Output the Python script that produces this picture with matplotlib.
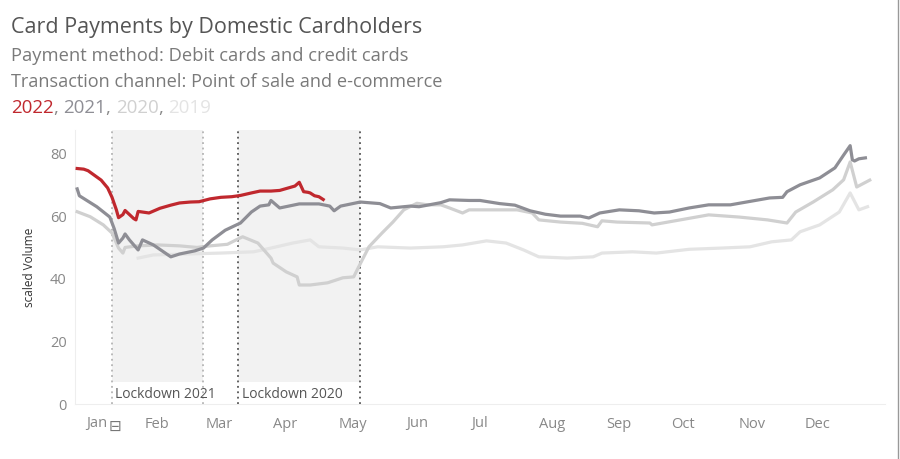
import matplotlib.pyplot as plt
from matplotlib.lines import Line2D

plt.rcParams['font.family'] = ['Open Sans', 'DejaVu Sans']

# day of year / scaled volume
days_2022 = [0, 3, 5, 8, 11, 14, 16, 18, 19, 21, 22, 24, 26, 27, 28, 30, 33, 38, 43, 47, 52, 56,
             61, 66, 71, 75, 80, 84, 89, 93, 97, 100, 102, 104, 106, 107, 109, 111, 113]
vol_2022 = [75.2, 75, 74.5, 73, 71.5, 69, 66, 62, 59.5, 60.5, 61.8, 60.5, 59.2, 58.8, 61.5, 61.3, 61,
            62.5, 63.5, 64.2, 64.5, 64.6, 65.5, 66, 66.2, 66.6, 67.4, 68, 68, 68.2, 69, 69.6, 70.8,
            67.8, 67.6, 67.4, 66.5, 66.2, 65.3]

days_2021 = [0, 1, 9, 15, 17, 19, 21, 22, 24, 28, 30, 35, 43, 47, 54, 58, 62, 68, 75, 80, 84, 88,
             89, 93, 102, 111, 116, 118, 121, 130, 139, 144, 153, 157, 167, 171, 180, 185, 194,
             201, 208, 215, 222, 231, 235, 240, 249, 258, 265, 272, 281, 290, 300, 309, 318, 324,
             326, 332, 341, 348, 352, 355, 356, 357, 359, 362]
vol_2021 = [68.7, 66.5, 63, 59.7, 56, 51.4, 53, 54.3, 52.4, 49.2, 52.4, 50.8, 47, 47.9, 48.9, 49.8,
            52.4, 55.5, 57.8, 61.3, 63.2, 63.6, 65, 62.6, 63.9, 63.9, 63.2, 61.7, 63.2, 64.5, 64,
            62.6, 63.2, 63, 64.3, 65.2, 65, 65, 64, 63.5, 61.7, 60.6, 60, 60, 59.4, 61, 62, 61.7,
            61, 61.3, 62.6, 63.6, 63.6, 64.7, 65.8, 66, 67.8, 70, 72.2, 75.4, 79.5, 82.5, 78, 77.6,
            78.3, 78.6]

days_2020 = [0, 6, 12, 16, 19, 21, 22, 28, 37, 47, 55, 61, 69, 73, 76, 83, 89, 90, 96, 101, 102,
             107, 115, 122, 127, 129, 134, 140, 145, 150, 156, 161, 167, 171, 177, 180, 189, 202,
             209, 212, 222, 232, 239, 241, 248, 263, 264, 277, 290, 304, 317, 326, 330, 338, 347,
             352, 355, 358, 364]
vol_2020 = [61.4, 59.8, 57.2, 54.6, 49.8, 48.2, 50, 50.5, 50.8, 50.5, 50, 50.5, 51, 52.4, 53.4,
            51.4, 46.6, 45, 42.2, 40.6, 38, 38, 38.7, 40.3, 40.6, 43.4, 50.2, 54.6, 58.1, 62, 64.1,
            63.6, 63.6, 62.6, 61, 62, 62, 62, 61, 58.8, 58.1, 57.7, 56.6, 58.5, 58.1, 57.8, 57.2,
            58.8, 60.4, 59.7, 58.8, 57.8, 61.3, 64.5, 68.4, 71.6, 77.3, 69.3, 71.5]

days_2019 = [28, 35, 50, 66, 81, 89, 99, 107, 111, 122, 130, 138, 153, 168, 177, 188, 197, 205,
             212, 225, 237, 241, 255, 266, 281, 296, 309, 319, 328, 332, 341, 350, 355, 359, 363]
vol_2019 = [46.6, 47.6, 47.9, 48.2, 48.6, 49.8, 51.4, 52.4, 50.2, 49.8, 49.2, 50.2, 49.8, 50.2,
            50.8, 52.1, 51.4, 49.2, 47, 46.6, 47, 48.2, 48.6, 48.2, 49.4, 49.8, 50.2, 51.8, 52.4,
            55, 57.2, 61.3, 67.4, 62, 63]

months = ['Jan', 'Feb', 'Mar', 'Apr', 'May', 'Jun', 'Jul', 'Aug', 'Sep', 'Oct', 'Nov', 'Dec']
month_days = [4, 31, 59, 90, 120, 151, 181, 212, 243, 273, 304, 334]

lockdowns = [('Lockdown 2021', 16, 58, '#b4b4b4'), ('Lockdown 2020', 74, 130, '#555555')]

c2022, c2021, c2020, c2019 = '#c0282e', '#8e8e95', '#d0d0d0', '#e4e4e4'

fig = plt.figure(figsize=(9, 4.59), dpi=100)
ax = fig.add_axes([75 / 900, 1 - 404 / 459, 810 / 900, 274 / 459])

for name, start, end, lc in lockdowns:
    ax.axvspan(start, end, ymin=7 / 87.5, ymax=1, color='#f2f2f2', lw=0, zorder=0)
    ax.axvline(start, color=lc, ls=(0, (1, 2)), lw=1.3, zorder=1)
    ax.axvline(end, color=lc, ls=(0, (1, 2)), lw=1.3, zorder=1)
    ax.text(start + 1.5, 3, name, fontsize=10, color='#555555', va='center', ha='left')

ax.plot(days_2019, vol_2019, color=c2019, lw=2.3, zorder=2)
ax.plot(days_2020, vol_2020, color=c2020, lw=2.3, zorder=3)
ax.plot(days_2021, vol_2021, color=c2021, lw=2.3, zorder=4)
ax.plot(days_2022, vol_2022, color=c2022, lw=2.3, zorder=5)

ax.set_xlim(-1, 371)
ax.set_ylim(0, 87.5)
ax.set_yticks([0, 20, 40, 60, 80])
ax.set_xticks(month_days)
ax.set_xticklabels(months, ha='left')
ax.tick_params(length=0, labelsize=10.5, colors='#888888')
ax.tick_params(axis='x', pad=9)
ax.tick_params(axis='y', pad=6)
ax.set_ylabel('scaled Volume', fontsize=8.5, color='#333333', labelpad=10)
for s in ['top', 'right']:
    ax.spines[s].set_visible(False)
ax.spines['left'].set_color('#eeeeee')
ax.spines['bottom'].set_color('#eeeeee')

ax.text(17.5, -7.2, '\u229f', fontsize=11, color='#777777', ha='center', va='center',
        family=['DejaVu Sans'])

fig.text(11 / 900, 1 - 28 / 459, 'Card Payments by Domestic Cardholders', fontsize=15.5,
         color='#555555', va='center')
fig.text(11 / 900, 1 - 56 / 459, 'Payment method: Debit cards and credit cards', fontsize=13.2,
         color='#7a7a7a', va='center')
fig.text(11 / 900, 1 - 82 / 459, 'Transaction channel: Point of sale and e-commerce', fontsize=13.1,
         color='#7a7a7a', va='center')

# year legend, coloured words in a row
x = 11
for word, col in [('2022', c2022), (', ', '#8a8a8a'), ('2021', c2021), (', ', '#8a8a8a'),
                  ('2020', c2020), (', ', '#8a8a8a'), ('2019', c2019)]:
    t = fig.text(x / 900, 1 - 108 / 459, word, fontsize=13.5, color=col, va='center')
    fig.canvas.draw()
    bb = t.get_window_extent()
    x += bb.width

fig.add_artist(Line2D([897.5 / 900, 897.5 / 900], [0, 1], color='#999999', lw=1))

fig.savefig('out.png', dpi=100)
